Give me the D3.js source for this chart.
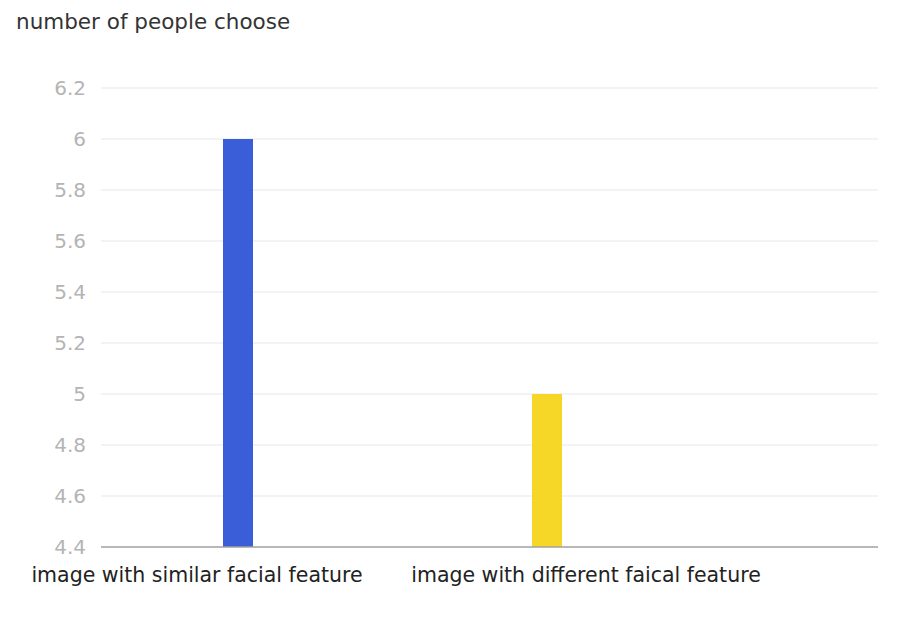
<!DOCTYPE html>
<html>
<head>
<meta charset="utf-8">
<script src="https://cdn.jsdelivr.net/npm/d3@7"></script>
<style>
  body { margin: 0; background: #fff; }
  text { font-family: "DejaVu Sans", sans-serif; }
</style>
</head>
<body>
<div id="chart"></div>
<script>
let categories = ['image with similar facial feature', 'image with different faical feature']
let values = [6, 5]
let colors = ['#3a5dd8', '#f6d627']
let ticks = [4.4, 4.6, 4.8, 5, 5.2, 5.4, 5.6, 5.8, 6, 6.2]

let ample = 916
let alt = 622
let esq = 101
let dre = 878
let dalt = 88
let baix = 547
let ampleBarra = 30

let svg = d3.select('#chart')
  .append('svg')
  .attr('width', ample)
  .attr('height', alt)

let y = d3.scaleLinear().domain([4.4, 6.2]).range([baix, dalt])
// posicions de les barres i de les etiquetes (no són centrades igual)
let xBarra = d3.scalePoint().domain(categories).range([238, 547])
let xText = d3.scalePoint().domain(categories).range([197, 586])

// títol
svg.append('text')
  .attr('x', 16)
  .attr('y', 29)
  .attr('fill', '#333')
  .style('font-size', '21.5px')
  .text('number of people choose')

// línies de graella
svg.selectAll('.grid')
  .data(ticks.slice(1))
  .enter()
  .append('line')
  .attr('x1', esq)
  .attr('x2', dre)
  .attr('y1', d => y(d))
  .attr('y2', d => y(d))
  .attr('stroke', '#efefef')
  .attr('stroke-width', 1.5)

// etiquetes eix y
svg.selectAll('.ytick')
  .data(ticks)
  .enter()
  .append('text')
  .attr('x', 86)
  .attr('y', d => y(d))
  .attr('dy', '0.35em')
  .attr('text-anchor', 'end')
  .attr('fill', '#b4b4b4')
  .style('font-size', '20px')
  .text(d => d)

// barres
svg.selectAll('rect')
  .data(values)
  .enter()
  .append('rect')
  .attr('x', (d, i) => xBarra(categories[i]) - ampleBarra / 2)
  .attr('y', d => y(d))
  .attr('width', ampleBarra)
  .attr('height', d => baix - y(d))
  .attr('fill', (_, i) => colors[i])

// eix x
svg.append('line')
  .attr('x1', esq)
  .attr('x2', dre)
  .attr('y1', baix)
  .attr('y2', baix)
  .attr('stroke', '#a0a0a0')
  .attr('stroke-width', 1.5)

svg.selectAll('.xlabel')
  .data(categories)
  .enter()
  .append('text')
  .attr('x', d => xText(d))
  .attr('y', 582)
  .attr('text-anchor', 'middle')
  .attr('fill', '#222')
  .style('font-size', '20.5px')
  .text(d => d)
</script>
</body>
</html>
